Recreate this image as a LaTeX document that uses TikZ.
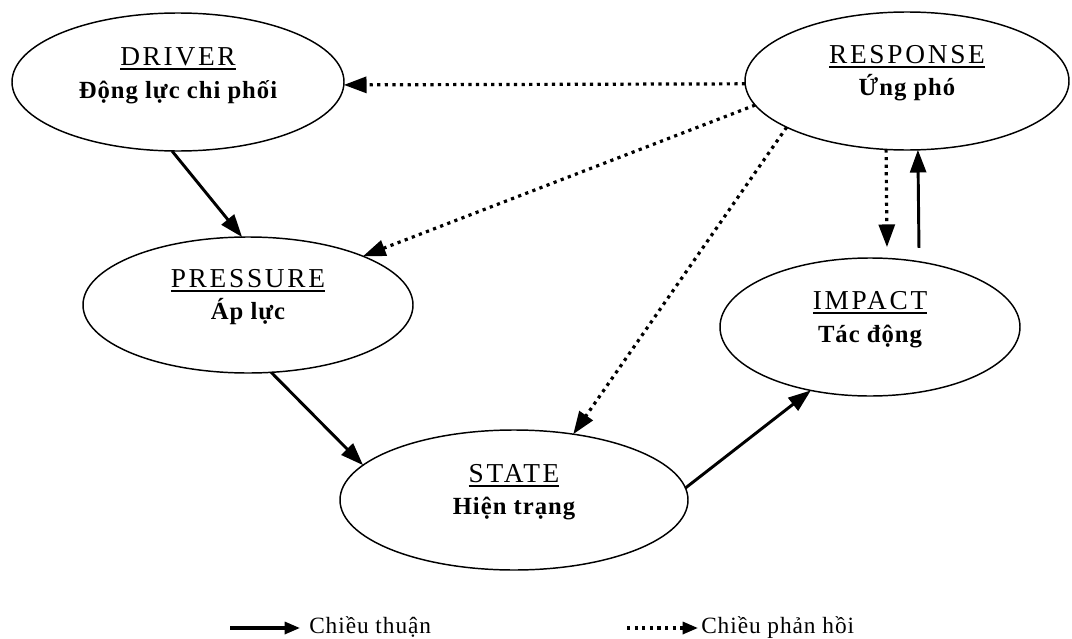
\documentclass[tikz,border=0pt]{standalone}
\usepackage{fontspec}
\setmainfont{Liberation Serif}
\newfontfamily\titlefont[LetterSpace=10]{Liberation Serif}
\newfontfamily\labelfont[LetterSpace=4]{Liberation Serif}
\usetikzlibrary{shapes.geometric,arrows.meta}

% underlined heading with a heavier rule than \underline gives
\newcommand\headline[1]{\setbox0\hbox{#1}\rlap{\rule[-3.4pt]{\wd0}{1.3pt}}\box0}

\tikzset{
  stage/.style={ellipse, draw, line width=1.1pt, inner sep=0pt, outer sep=0pt, fill=white},
  ttl/.style={anchor=base, inner sep=0pt, font=\titlefont\fontsize{20.5}{24}\selectfont},
  sub/.style={anchor=base, inner sep=0pt, font=\labelfont\bfseries\fontsize{18.5}{22}\selectfont},
  legendtext/.style={anchor=base west, inner sep=0pt, font=\labelfont\fontsize{17.5}{20}\selectfont},
  fwd/.style={line width=2.2pt, -{Triangle[length=17pt,width=12pt]}},
  fb/.style={line width=2.4pt, dash pattern=on 2.4pt off 3.3pt, -{Triangle[length=17pt,width=12pt]}},
  fwdkey/.style={line width=2.4pt, -{Triangle[length=11.5pt,width=9pt]}},
  fbkey/.style={line width=2.4pt, dash pattern=on 2.4pt off 3.3pt, -{Triangle[length=11.5pt,width=9pt]}},
}

\begin{document}
\begin{tikzpicture}[x=0.75pt, y=-0.75pt]
  \fill[white] (0,0) rectangle (1072,639);
  \useasboundingbox (0,0) rectangle (1072,639);

  % the five stages
  \node[stage, minimum width=249pt, minimum height=103.5pt] (drv) at (178,82) {};
  \node[stage, minimum width=243pt, minimum height=103.5pt] (rsp) at (907,81) {};
  \node[stage, minimum width=247.5pt, minimum height=102pt] (prs) at (248,305) {};
  \node[stage, minimum width=225pt, minimum height=103.5pt] (imp) at (870,327) {};
  \node[stage, minimum width=261pt, minimum height=105pt] (sta) at (514,500) {};

  % headings and Vietnamese names
  \node[ttl] (drvT) at (178,65) {\headline{DRIVER}};
  \node[sub] (drvS) at (178,98) {Động lực chi phối};
  \node[ttl] (rspT) at (907,63) {\headline{RESPONSE}};
  \node[sub] (rspS) at (907,95) {Ứng phó};
  \node[ttl] (prsT) at (248,287) {\headline{PRESSURE}};
  \node[sub] (prsS) at (248,319) {Áp lực};
  \node[ttl] (impT) at (870,309) {\headline{IMPACT}};
  \node[sub] (impS) at (870,342) {Tác động};
  \node[ttl] (staT) at (514,482) {\headline{STATE}};
  \node[sub] (staS) at (514,514) {Hiện trạng};

  % forward chain
  \draw[fwd] (drv.-95) -- (prs.95.9);
  \draw[fwd] (prs.-71.4) -- (sta.167.75);
  \draw[fwd] (sta.4) -- (imp.227.6);
  \draw[fwd, shorten <=10.4pt] (imp.53.1) -- (rsp.279.9);

  % feedback from the response
  \draw[fb] (rsp.181.4) -- (drv.-1);
  \draw[fb] (rsp.189.8) -- (prs.23.3);
  \draw[fb] (rsp.201.1) -- (sta.48.2);
  \draw[fb, shorten >=8.5pt] (rsp.253.7) -- (imp.76.1);

  % key
  \coordinate (k1a) at (230,628);
  \coordinate (k1b) at (300,628);
  \draw[fwdkey] (k1a) -- (k1b);
  \node[legendtext] (k1t) at (309,633) {Chiều thuận};
  \coordinate (k2a) at (627,628);
  \coordinate (k2b) at (698,628);
  \draw[fbkey] (k2a) -- (k2b);
  \node[legendtext] (k2t) at (701,633) {Chiều phản hồi};
\end{tikzpicture}
\end{document}
